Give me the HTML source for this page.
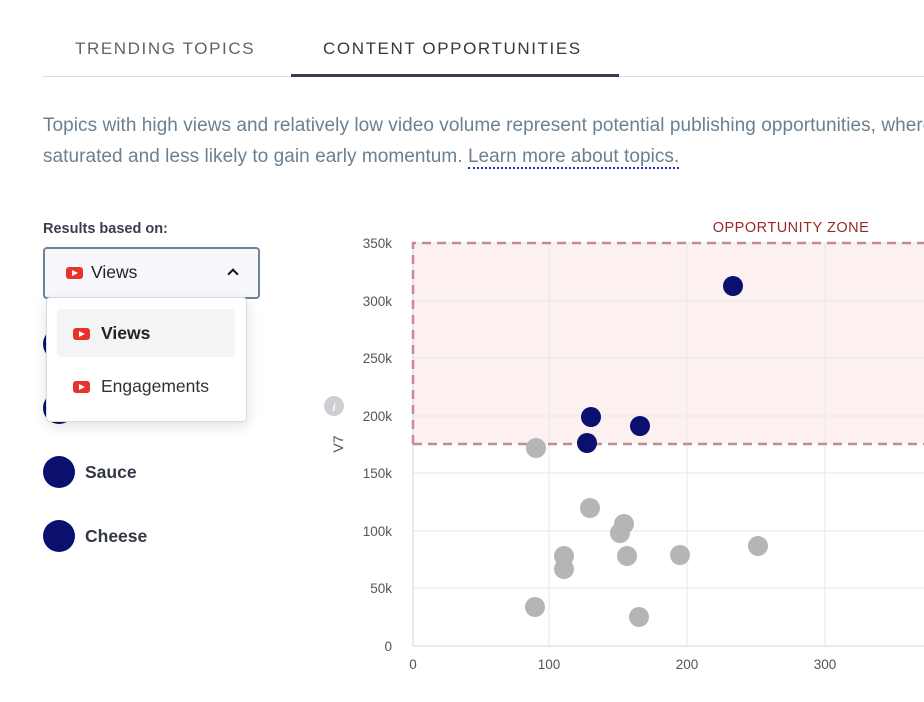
<!DOCTYPE html>
<html><head><style>
body{margin:0;width:924px;height:702px;overflow:hidden;background:#fff;font-family:"Liberation Sans",sans-serif;position:relative}
.a{position:absolute;white-space:nowrap}
.yt{display:inline-block;width:17px;height:12px;background:#e8332a;border-radius:3px;position:relative;vertical-align:middle;margin-right:8px}
.yt:after{content:"";position:absolute;left:6px;top:3px;border-left:6px solid #fff;border-top:3px solid transparent;border-bottom:3px solid transparent}
.dot{position:absolute;width:32px;height:32px;border-radius:50%;background:#0b0f6e;left:43px}
.lg{position:absolute;left:85px;font-size:17.5px;font-weight:bold;color:#333845}
</style></head><body>
<div class="a" style="left:75px;top:39px;font-size:17px;letter-spacing:1.6px;color:#5f6368">TRENDING TOPICS</div>
<div class="a" style="left:323px;top:39px;font-size:17px;letter-spacing:1.6px;color:#333845">CONTENT OPPORTUNITIES</div>
<div class="a" style="left:43px;top:76px;width:881px;height:1px;background:#dadce0"></div>
<div class="a" style="left:291px;top:74px;width:328px;height:3px;background:#3a3d50"></div>
<div class="a" style="left:43px;top:115px;font-size:19px;color:#6b8090;letter-spacing:0.05px">Topics with high views and relatively low video volume represent potential publishing opportunities, where</div>
<div class="a" style="left:43px;top:146px;font-size:19px;color:#6b8090;letter-spacing:0.05px">saturated and less likely to gain early momentum. <span style="border-bottom:2px dotted #1a2bd6">Learn more about topics.</span></div>
<div class="a" style="left:43px;top:221px;font-size:14.5px;font-weight:bold;color:#3a3d50">Results based on:</div>
<div class="dot" style="top:328px"></div>
<div class="dot" style="top:392px"></div>
<div class="dot" style="top:456px"></div><div class="lg" style="top:462px">Sauce</div>
<div class="dot" style="top:520px"></div><div class="lg" style="top:526px">Cheese</div>
<div class="a" style="left:43px;top:247px;width:213px;height:48px;border:2px solid #6f8393;border-radius:4px;background:#f7f8fb"></div>
<div class="a" style="left:66px;top:262px;font-size:17.5px;color:#222"><span class="yt"></span>Views</div>
<div class="a" style="left:229px;top:270px;width:6px;height:6px;border-left:2.5px solid #111;border-top:2.5px solid #111;transform:rotate(45deg)"></div>
<div class="a" style="left:46px;top:297px;width:199px;height:123px;background:#fff;border:1px solid #d6d9de;border-radius:4px;box-shadow:0 4px 14px rgba(0,0,0,.12)"></div>
<div class="a" style="left:57px;top:309px;width:178px;height:48px;background:#f3f4f6;border-radius:4px"></div>
<div class="a" style="left:73px;top:323px;font-size:17.5px;font-weight:bold;color:#222"><span class="yt" style="margin-right:11px"></span>Views</div>
<div class="a" style="left:73px;top:376px;font-size:17.5px;color:#333"><span class="yt" style="margin-right:11px"></span>Engagements</div>
<svg class="a" style="left:0;top:0" width="924" height="702">
<rect x="413" y="243" width="520" height="201" fill="#fcf1f0"/>
<g stroke="#e6e7ec" stroke-width="1">
<line x1="413" y1="243" x2="924" y2="243"/><line x1="413" y1="301" x2="924" y2="301"/><line x1="413" y1="358" x2="924" y2="358"/><line x1="413" y1="416" x2="924" y2="416"/><line x1="413" y1="473" x2="924" y2="473"/><line x1="413" y1="531" x2="924" y2="531"/><line x1="413" y1="588" x2="924" y2="588"/>
<line x1="549" y1="243" x2="549" y2="646"/><line x1="687" y1="243" x2="687" y2="646"/><line x1="825" y1="243" x2="825" y2="646"/>
</g>
<line x1="413" y1="646" x2="924" y2="646" stroke="#cfd6e6"/><line x1="413" y1="243" x2="413" y2="646" stroke="#cfd6e6"/>
<path d="M413 444 V243 H930 M413 444 H930" fill="none" stroke="#c48c8c" stroke-width="2.5" stroke-dasharray="9,6"/>
<text x="791" y="232" text-anchor="middle" font-size="14.5" fill="#9a2a2a" letter-spacing="0.5">OPPORTUNITY ZONE</text>
<g font-size="13.5" fill="#555" text-anchor="end">
<text x="392" y="248">350k</text><text x="392" y="306">300k</text><text x="392" y="363">250k</text><text x="392" y="421">200k</text><text x="392" y="478">150k</text><text x="392" y="536">100k</text><text x="392" y="593">50k</text><text x="392" y="651">0</text>
</g>
<g font-size="13.5" fill="#555" text-anchor="middle">
<text x="413" y="669">0</text><text x="549" y="669">100</text><text x="687" y="669">200</text><text x="825" y="669">300</text>
</g>
<circle cx="334" cy="406" r="10" fill="#cfcfd3"/><text x="334" y="411" font-size="11" fill="#fff" text-anchor="middle" font-style="italic" font-weight="bold">i</text>
<text x="0" y="0" font-size="14" fill="#555" transform="translate(343,444) rotate(-90)" text-anchor="middle">V7</text>
<g fill="#b5b5b5">
<circle cx="536" cy="448" r="10"/><circle cx="590" cy="508" r="10"/><circle cx="624" cy="524" r="10"/><circle cx="620" cy="533" r="10"/><circle cx="564" cy="556" r="10"/><circle cx="564" cy="569" r="10"/><circle cx="627" cy="556" r="10"/><circle cx="680" cy="555" r="10"/><circle cx="758" cy="546" r="10"/><circle cx="535" cy="607" r="10"/><circle cx="639" cy="617" r="10"/>
</g>
<g fill="#0b0f6e">
<circle cx="733" cy="286" r="10"/><circle cx="591" cy="417" r="10"/><circle cx="587" cy="443" r="10"/><circle cx="640" cy="426" r="10"/>
</g>
</svg>
</body></html>
